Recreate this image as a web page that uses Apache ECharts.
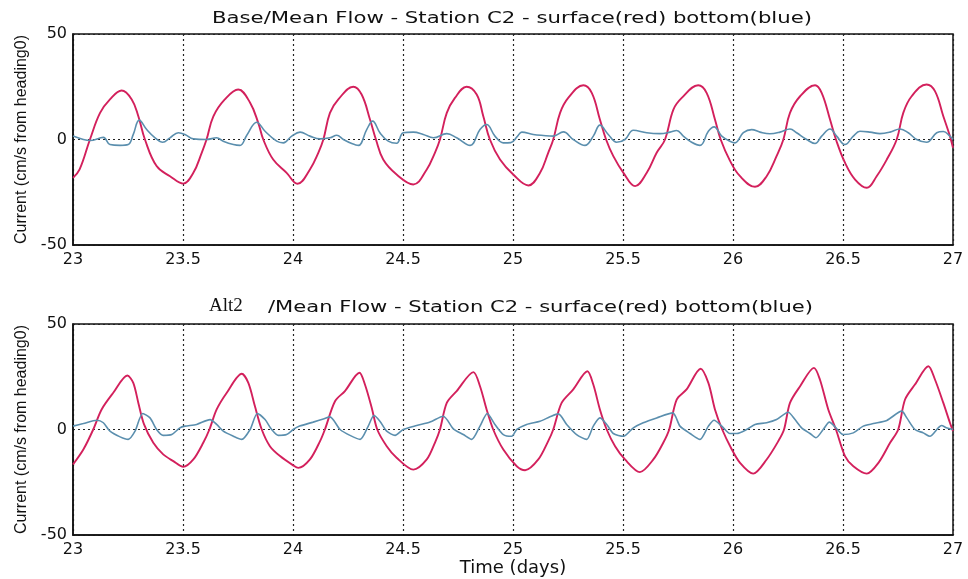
<!DOCTYPE html>
<html>
<head>
<meta charset="utf-8">
<script src="https://cdn.jsdelivr.net/npm/echarts@6/dist/echarts.min.js"></script>
<style>
html,body{margin:0;padding:0;background:#fff;}
#chart{width:968px;height:579px;}
</style>
</head>
<body>
<div id="chart"></div>
<script>
// ---------- DATA ----------
const xTicks = [23, 23.5, 24, 24.5, 25, 25.5, 26, 26.5, 27];
const yTicks = [-50, 0, 50];

const titleTop = 'Base/Mean Flow - Station C2 - surface(red) bottom(blue)';
const titleBottomPrefix = 'Alt2';
const titleBottomRest = '/Mean Flow - Station C2 - surface(red) bottom(blue)';
const yName = 'Current (cm/s from heading0)';
const xName = 'Time (days)';

// Top panel (Base) – surface (red)
const topSurfT = [23.000,23.030,23.077,23.123,23.168,23.221,23.267,23.297,23.327,23.380,23.441,23.501,23.547,23.585,23.607,23.638,23.690,23.751,23.805,23.842,23.865,23.910,23.971,24.020,24.077,24.115,24.138,24.168,24.206,24.274,24.312,24.350,24.377,24.410,24.471,24.547,24.608,24.645,24.668,24.699,24.736,24.789,24.835,24.865,24.895,24.941,25.001,25.070,25.123,25.160,25.183,25.214,25.251,25.320,25.358,25.395,25.423,25.456,25.502,25.555,25.608,25.653,25.691,25.729,25.767,25.842,25.880,25.918,25.944,25.986,26.032,26.100,26.153,26.198,26.229,26.259,26.305,26.373,26.403,26.441,26.468,26.509,26.555,26.608,26.653,26.699,26.744,26.774,26.812,26.880,26.918,26.956,26.986,27.000];
const topSurfV = [-18.2,-14.2,0,12.6,19,23.2,19,11,0,-12.6,-17.4,-20.9,-15.8,-6.3,0,11,19,23.7,17.4,7.9,0,-9.5,-15.8,-21,-14.2,-6.3,0,12.6,19,25,21.3,9.5,0,-9.5,-16.6,-21.3,-14.2,-6.3,0,12.6,19.7,25,21.3,11,0,-9.5,-16.6,-21.8,-15.8,-6.3,0,12.6,19.7,25.7,22.1,9.5,0,-7.9,-15.8,-22.1,-15.8,-6.3,0,14.2,19.7,25.7,22.1,9.5,0,-10,-17.4,-22.4,-17.4,-7.9,0,12.6,20.5,25.7,22.1,9.5,0,-11,-19,-22.9,-17.4,-9.5,0,12.6,20.5,26.1,22.9,11,1.6,-3.9];

// Top panel (Base) – bottom (blue)
const topBotT = [23.000,23.047,23.077,23.138,23.168,23.214,23.251,23.274,23.301,23.335,23.373,23.408,23.441,23.479,23.509,23.547,23.607,23.653,23.683,23.729,23.759,23.790,23.835,23.873,23.926,23.956,23.994,24.032,24.077,24.123,24.168,24.199,24.229,24.267,24.297,24.335,24.362,24.395,24.433,24.471,24.501,24.547,24.592,24.638,24.699,24.744,24.805,24.850,24.880,24.918,24.956,24.990,25.020,25.040,25.092,25.138,25.183,25.229,25.274,25.327,25.365,25.395,25.433,25.471,25.509,25.547,25.608,25.668,25.714,25.744,25.774,25.812,25.850,25.888,25.914,25.949,25.986,26.009,26.047,26.085,26.123,26.168,26.214,26.259,26.289,26.335,26.373,26.403,26.441,26.471,26.509,26.547,26.577,26.623,26.668,26.714,26.759,26.797,26.835,26.880,26.926,26.956,26.986,27.000];
const topBotV = [1.6,0,-0.5,1.0,-2.4,-2.8,-2.4,2.4,9.2,4.7,0.8,-1.3,0.8,3.2,2.4,0.3,0,0.8,-0.8,-2.4,-2.8,2.0,8.2,3.9,-0.8,-1.6,1.6,3.5,1.6,0.3,0.8,2.0,0,-1.9,-2.8,4.7,8.7,3.2,-0.8,-1.8,3.2,3.5,2.4,0.8,2.8,0.8,-2.8,4.7,7.1,1.6,-1.6,-1.5,1.5,3.5,2.4,1.9,1.6,3.6,0,-2.8,1.6,6.8,2.4,-1.3,0,4.4,3.2,2.8,3.5,4.3,1.6,-1.3,-2.8,3.9,6.0,1.6,-0.8,-1.6,3.2,4.7,3.5,2.7,3.5,5.0,3.2,0,-1.9,1.6,5.0,1.6,-2.4,1.6,3.9,3.5,2.8,3.5,5.0,3.2,0,-1.3,3.2,3.8,1.6,0];

// Bottom panel (Alt2) – surface (red)
const altSurfT = [23.000,23.047,23.092,23.130,23.183,23.247,23.274,23.297,23.323,23.365,23.410,23.456,23.501,23.547,23.592,23.620,23.653,23.699,23.767,23.797,23.827,23.858,23.895,23.941,24.001,24.024,24.077,24.123,24.145,24.191,24.236,24.302,24.327,24.358,24.383,24.426,24.471,24.547,24.608,24.645,24.668,24.699,24.744,24.820,24.850,24.880,24.910,24.956,25.017,25.055,25.115,25.160,25.183,25.221,25.274,25.338,25.365,25.395,25.426,25.464,25.509,25.577,25.638,25.683,25.710,25.744,25.789,25.853,25.888,25.918,25.951,25.990,26.032,26.092,26.153,26.206,26.232,26.259,26.305,26.368,26.395,26.433,26.468,26.509,26.547,26.608,26.661,26.714,26.751,26.782,26.827,26.888,26.918,26.956,26.986,27.000];
const altSurfV = [-16.6,-9.5,0,9.5,17.4,25.6,22.1,12.6,2.4,-6.3,-11.8,-15,-17.7,-14.2,-6.3,0,9.5,17.4,26.4,22.1,11,0,-7.9,-12.6,-17,-18.2,-14.2,-5.5,0,13.4,18.2,26.9,21.3,10.2,0,-7.9,-13.4,-19,-14.2,-6.3,0,12.6,18.2,27.2,20.5,9.5,0,-9.5,-17.4,-19.3,-14.2,-5.5,0,12.6,19,27.6,21.3,9.5,0,-7.9,-14.2,-20.2,-14.2,-6.3,0,14.2,19,28.8,22.1,9.5,0,-8.5,-15.8,-20.9,-14.2,-5.5,0,12.6,20.5,29.2,23.7,9.5,0,-12.6,-17.4,-20.9,-15.8,-6.3,0,14.2,21.3,30,23.7,12.6,3.2,-0.8];

// Bottom panel (Alt2) – bottom (blue)
const altBotT = [23.000,23.047,23.108,23.138,23.168,23.214,23.251,23.282,23.317,23.350,23.380,23.410,23.449,23.486,23.509,23.562,23.623,23.653,23.683,23.729,23.767,23.805,23.838,23.873,23.903,23.933,23.971,24.001,24.030,24.092,24.138,24.168,24.214,24.259,24.305,24.342,24.368,24.395,24.426,24.464,24.501,24.562,24.623,24.683,24.729,24.774,24.812,24.850,24.883,24.918,24.956,24.994,25.017,25.062,25.123,25.168,25.206,25.244,25.289,25.335,25.365,25.395,25.426,25.456,25.502,25.547,25.592,25.653,25.726,25.759,25.805,25.850,25.888,25.914,25.949,25.986,26.017,26.062,26.100,26.153,26.198,26.251,26.282,26.312,26.350,26.377,26.410,26.438,26.468,26.501,26.547,26.592,26.638,26.699,26.767,26.790,26.827,26.865,26.895,26.933,26.948,26.970,27.000];
const altBotV = [1.6,2.8,4.4,3.2,-0.8,-3.5,-4.7,-0.8,7.6,5.5,0,-2.8,-2.4,0.8,1.6,2.4,4.7,2.4,-0.8,-3.2,-4.7,0,7.6,4.7,0,-2.8,-2.4,0,1.6,3.5,5.0,6.0,0,-2.8,-4.7,1.6,6.6,3.9,-0.8,-2.8,0,1.9,3.5,6.3,0.3,-2.4,-4.7,1.6,7.6,2.4,-2.4,-3.2,0,2.4,3.9,6.0,7.4,2.4,-2.4,-4.7,1.6,5.5,2.4,-1.9,-3.2,0.8,3.2,5.5,7.9,1.6,-1.9,-4.7,1.6,4.4,1.6,-1.9,-1.9,0,2.4,3.2,4.7,8.2,4.7,0.8,-1.9,-3.9,0,3.5,0.8,-2.4,-1.6,1.6,2.8,4.3,8.7,5.5,0,-1.6,-3.2,0.8,1.9,0.8,0];

// ---------- CHART ----------
const zip = (t, v) => t.map((x, i) => [x, v[i]]);
const RED = '#d3205c';
const BLUE = '#5b8fae';
const INK = '#111';
const tickFont = 'DejaVu Sans';

function measure(text, font) {
  const c = document.createElement('canvas').getContext('2d');
  c.font = font;
  return c.measureText(text).width;
}

const grids = [
  { left: 73, top: 34, width: 880, height: 211 },
  { left: 73, top: 324, width: 880, height: 211 }
];

function xAxis(i) {
  return {
    type: 'value', gridIndex: i, min: xTicks[0], max: xTicks[xTicks.length - 1], interval: 0.5,
    axisLine: { show: true, onZero: false, lineStyle: { color: INK, width: 1.5 } },
    axisTick: { show: false },
    axisLabel: { color: INK, fontFamily: tickFont, fontSize: 16, margin: 7 },
    splitLine: { show: true, lineStyle: { color: '#222', width: 1.2, type: [2, 3] } },
    name: i === 1 ? xName : '',
    nameLocation: 'middle', nameGap: 24,
    nameTextStyle: { color: INK, fontFamily: tickFont, fontSize: 18 }
  };
}
function yAxis(i) {
  return {
    type: 'value', gridIndex: i, min: yTicks[0], max: yTicks[yTicks.length - 1], interval: 50,
    axisLine: { show: true, onZero: false, lineStyle: { color: INK, width: 1.5 } },
    axisTick: { show: false },
    axisLabel: { color: INK, fontFamily: tickFont, fontSize: 16, margin: 6 },
    splitLine: { show: true, lineStyle: { color: '#222', width: 1.2, type: [2, 3] } },
    name: yName, nameLocation: 'middle', nameGap: 42, nameRotate: 90,
    nameTextStyle: { color: INK, fontFamily: 'Liberation Sans', fontSize: 16 }
  };
}

function line(i, t, v, color, smooth, width) {
  return {
    type: 'line', xAxisIndex: i, yAxisIndex: i, data: zip(t, v),
    showSymbol: false, smooth: smooth, z: color === RED ? 3 : 4,
    lineStyle: { color: color, width: width }
  };
}

const titleFont = '15px "DejaVu Sans"';
const topW = 600, botW = 545;
const topScale = topW / measure(titleTop, titleFont);
const botScale = botW / measure(titleBottomRest, titleFont);

const chart = echarts.init(document.getElementById('chart'), null, { renderer: 'canvas' });
chart.setOption({
  animation: false,
  backgroundColor: '#fff',
  grid: grids.map(g => Object.assign({ show: true, borderColor: INK, borderWidth: 1.5, backgroundColor: 'transparent' }, g)),
  xAxis: [xAxis(0), xAxis(1)],
  yAxis: [yAxis(0), yAxis(1)],
  series: [
    line(0, topSurfT, topSurfV, RED, 0.4, 1.9),
    line(0, topBotT, topBotV, BLUE, 0.4, 1.6),
    line(1, altSurfT, altSurfV, RED, 0.3, 1.9),
    line(1, altBotT, altBotV, BLUE, 0.25, 1.6)
  ],
  graphic: [
    { type: 'text', x: 212, y: 19, scaleX: topScale, scaleY: 1,
      style: { text: titleTop, font: titleFont, fill: INK, align: 'left', verticalAlign: 'middle', textAlign: 'left', textVerticalAlign: 'middle' } },
    { type: 'text', x: 209, y: 306,
      style: { text: titleBottomPrefix, font: '19px "Liberation Serif"', fill: INK, align: 'left', verticalAlign: 'middle', textAlign: 'left', textVerticalAlign: 'middle' } },
    { type: 'text', x: 268, y: 308, scaleX: botScale, scaleY: 1,
      style: { text: titleBottomRest, font: titleFont, fill: INK, align: 'left', verticalAlign: 'middle', textAlign: 'left', textVerticalAlign: 'middle' } }
  ]
});
</script>
</body>
</html>
